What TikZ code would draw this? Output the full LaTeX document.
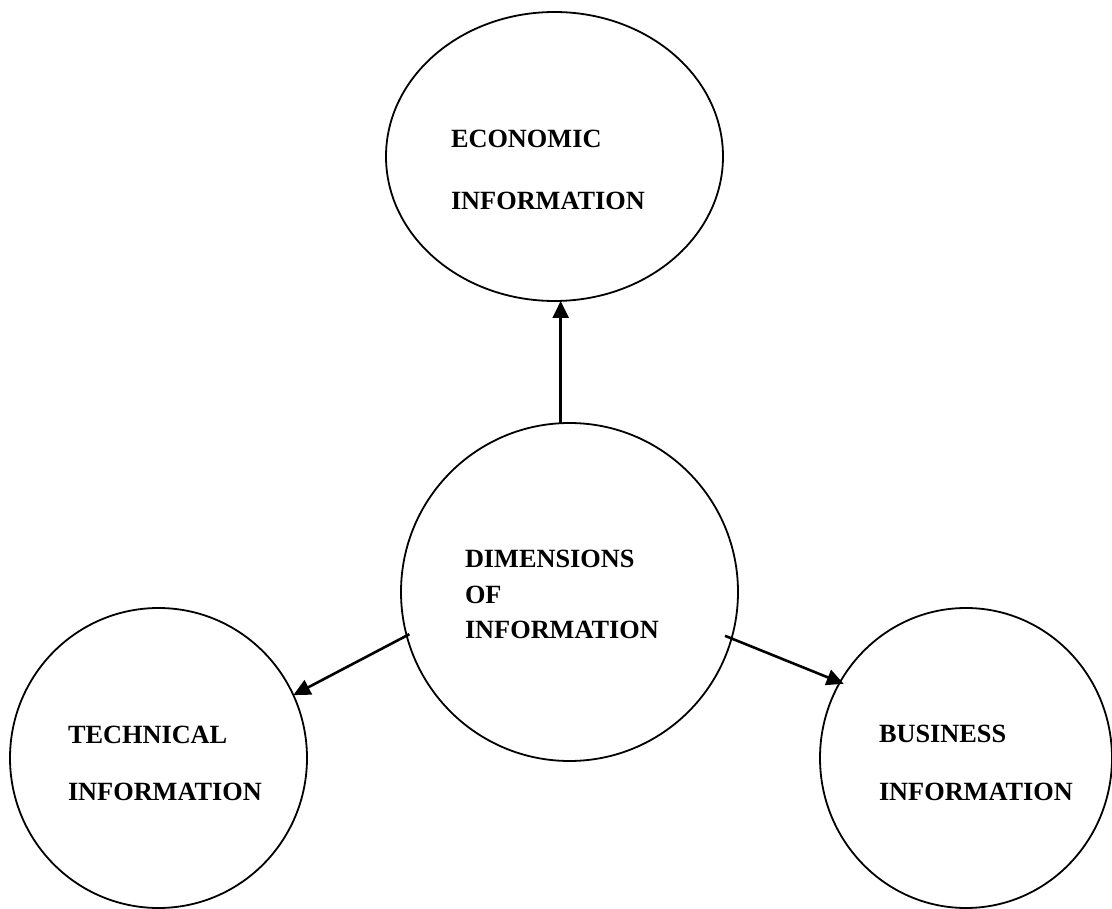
\documentclass[tikz,border=0pt]{standalone}
\usepackage{fontspec}
\setmainfont{Liberation Serif}
\usetikzlibrary{shapes.geometric,arrows.meta}
\begin{document}
\begin{tikzpicture}[x=1pt,y=-1pt,
  bubble/.style={draw, ellipse, line width=1.8pt, inner sep=0pt, outer sep=0pt},
  lbl/.style={anchor=base west, inner sep=0pt, outer sep=0pt,
              font=\bfseries\fontsize{26.3}{30}\selectfont},
  link/.style={line width=2.6pt, -{Triangle[length=17pt,width=16pt]}}]
  \useasboundingbox (0,0) rectangle (1112,909);

  % the four bubbles
  \node[bubble, minimum width=337pt, minimum height=289pt] (econ) at (554.5,156.5) {};
  \node[bubble, minimum width=337pt, minimum height=338pt] (dims) at (569.5,592) {};
  \node[bubble, minimum width=297pt, minimum height=300pt] (tech) at (158.5,758) {};
  \node[bubble, minimum width=292pt, minimum height=300pt] (bus)  at (966,758) {};

  % labels
  \node[lbl] (econA) at (451,148) {ECONOMIC};
  \node[lbl] (econB) at (451,210) {INFORMATION};
  \node[lbl] (dimsA) at (465,567) {DIMENSIONS};
  \node[lbl] (dimsB) at (465,603) {OF};
  \node[lbl] (dimsC) at (465,638) {INFORMATION};
  \node[lbl] (techA) at (68,743) {TECHNICAL};
  \node[lbl] (techB) at (68,800) {INFORMATION};
  \node[lbl] (busA)  at (879,742) {BUSINESS};
  \node[lbl] (busB)  at (879,800) {INFORMATION};

  % connectors
  \draw[link] (dims.93.4) -- (dims.93.4 |- econ.south);
  \draw[link, shorten <=-3pt] (dims.195.1) -- (tech.25.8);
  \draw[link, shorten <=-7pt, shorten >=-4pt] (dims.344.4) -- (bus.149);
\end{tikzpicture}
\end{document}
